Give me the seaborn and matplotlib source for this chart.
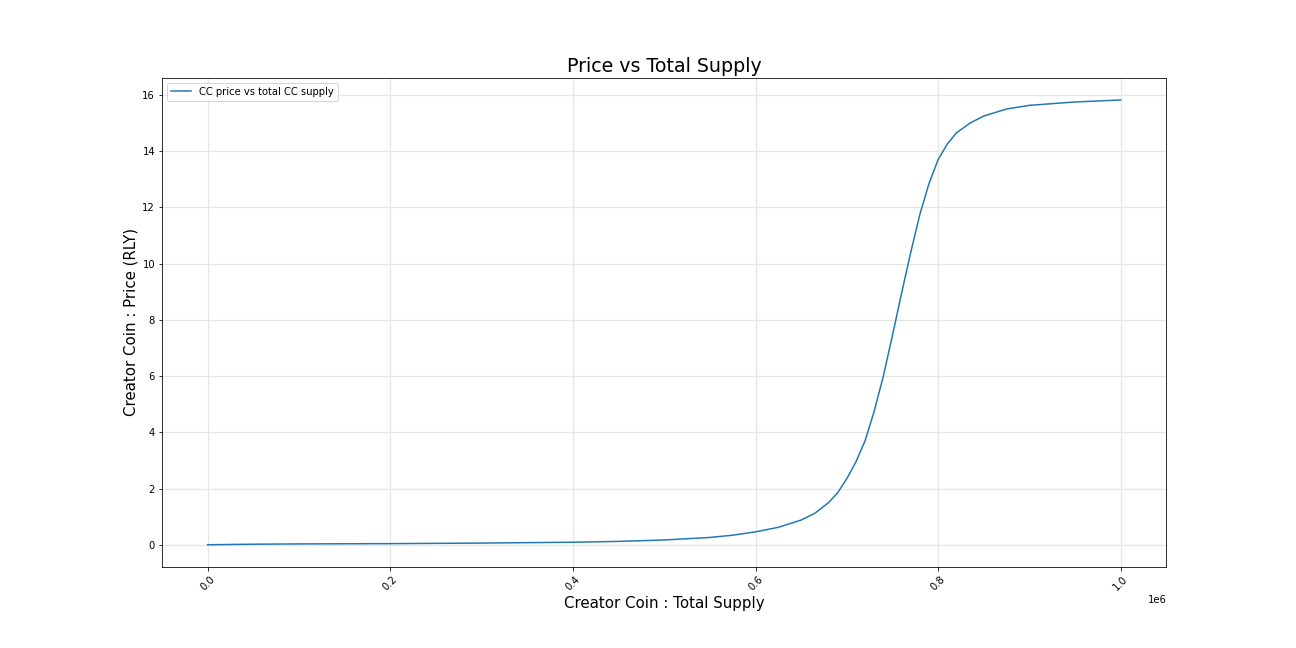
import matplotlib
matplotlib.use("Agg")
import matplotlib.pyplot as plt
import seaborn as sns
import pandas as pd

# values
supply = [0, 50000, 100000, 200000, 300000, 400000, 450000, 500000, 550000,
          575000, 600000, 625000, 650000, 665000, 680000, 690000, 700000,
          710000, 720000, 730000, 740000, 750000, 760000, 770000, 780000,
          790000, 800000, 810000, 820000, 835000, 850000, 875000, 900000,
          950000, 1000000]
price = [0.0, 0.02, 0.03, 0.04, 0.06, 0.09, 0.12, 0.17, 0.26,
         0.34, 0.46, 0.62, 0.88, 1.12, 1.5, 1.85, 2.35,
         2.95, 3.7, 4.75, 6.0, 7.45, 8.95, 10.4, 11.75,
         12.85, 13.7, 14.25, 14.65, 15.0, 15.25, 15.5, 15.63,
         15.75, 15.82]

df = pd.DataFrame({"supply": supply, "price": price})

fig, ax = plt.subplots(figsize=(18, 9), dpi=72)
fig.subplots_adjust(bottom=0.125)
sns.lineplot(data=df, x="supply", y="price", ax=ax, color="#1f77b4",
             label="CC price vs total CC supply")
ax.set_title("Price vs Total Supply", fontsize=19)
ax.set_xlabel("Creator Coin : Total Supply", fontsize=15)
ax.set_ylabel("Creator Coin : Price (RLY)", fontsize=15)
ax.grid(True, color="#e6e6e6", linewidth=1.3)
ax.tick_params(axis="x", labelrotation=45)
ax.legend(loc="upper left")
fig.savefig("out.png")
